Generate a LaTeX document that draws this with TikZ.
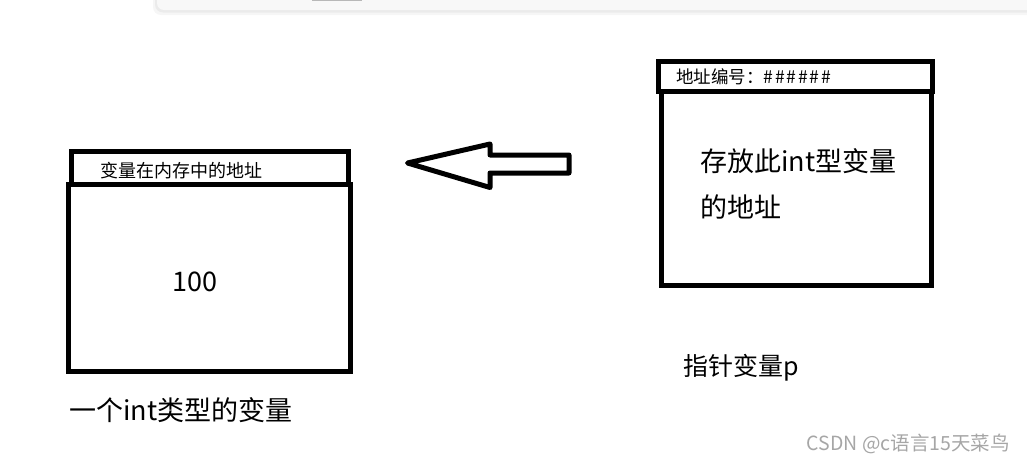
\documentclass[tikz,border=0pt]{standalone}
\usepackage{fontspec}
\setmainfont{Noto Sans CJK SC}
\definecolor{barfill}{HTML}{F8F8F8}
\definecolor{barshadow}{HTML}{E4E4E4}
\definecolor{barmark}{HTML}{B8B8B8}
\definecolor{wmark}{HTML}{A6A6A6}
\begin{document}
\begin{tikzpicture}[x=1pt,y=-1pt,
  box/.style={draw=black, line width=5pt, inner sep=0pt, outer sep=0pt, anchor=north west, fill=white},
  txt/.style={inner sep=0pt, anchor=west, text=black},
  blockarrow/.style={draw=black, line width=5pt, line join=round, fill=white}]
\useasboundingbox (0,0) rectangle (1027,463);
% top window bar
\fill[barshadow, opacity=0.35, rounded corners=8pt] (153,-12) rectangle (1040,15);
\fill[barshadow, opacity=0.6, rounded corners=8pt] (155,-12) rectangle (1040,12.5);
\fill[barfill, rounded corners=7pt] (157,-12) rectangle (1040,10);
\fill[barmark] (312,0) rectangle (362,1.2);
% left variable
\node[box, minimum width=276.5pt, minimum height=33pt] (lhead) at (71.5,151.5) {};
\node[box, minimum width=281.5pt, minimum height=186.5pt] (lmain) at (68.5,184.5) {};
\node[txt, font=\fontsize{18}{20}\selectfont] (laddr) at (100.5,170.5) {变量在内存中的地址};
\node[inner sep=0pt, font=\fontsize{27}{30}\selectfont] (lval) at (195,281.5) {100};
\node[txt, font=\fontsize{27}{30}\selectfont] (lcap) at (69,410) {一个int类型的变量};
% right pointer
\node[box, minimum width=274pt, minimum height=29.5pt] (rhead) at (658.5,61.5) {};
\node[box, minimum width=270.5pt, minimum height=194pt] (rmain) at (661,91) {};
\node[txt, font=\fontsize{17.5}{20}\selectfont] (raddr) at (676,76.5) {地址编号：\#\kern1.8pt\#\kern1.8pt\#\kern1.8pt\#\kern1.8pt\#\kern1.8pt\#};
\node[txt, font=\fontsize{27}{30}\selectfont] (rval1) at (700,161.5) {存放此int型变量};
\node[txt, font=\fontsize{27}{30}\selectfont] (rval2) at (700,206.5) {的地址};
\node[txt, font=\fontsize{25}{30}\selectfont] (rcap) at (683,368) {指针变量p};
% block arrow
\coordinate (tip) at (407.5,163);
\coordinate (tail) at (569,164);
\draw[blockarrow] (tip) -- (490,144) -- (490,155) -- (tail |- 0,155) -- (tail |- 0,173) -- (490,173) -- (490,187.5) -- cycle;
% watermark
\node[txt, text=wmark, font=\fontsize{19.5}{22}\selectfont] (wm) at (806.5,443.5) {CSDN @c语言15天菜鸟};
\end{tikzpicture}
\end{document}
